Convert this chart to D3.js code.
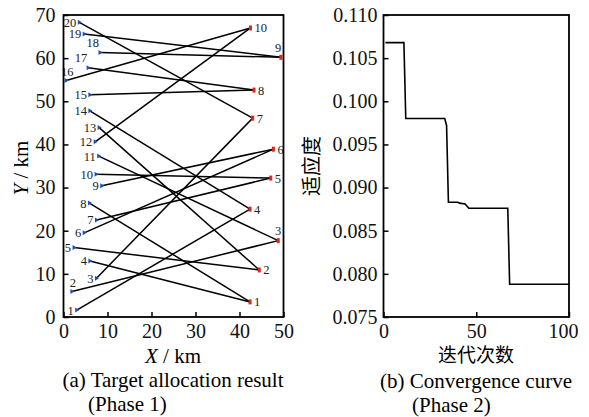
<!DOCTYPE html>
<html><head><meta charset="utf-8">
<script src="https://cdn.jsdelivr.net/npm/d3@7"></script>
<style>body{margin:0;background:#fff}svg{display:block}</style>
</head><body>
<svg id="c" width="589" height="417"></svg>
<script>
// ---- Panel (a): target allocation ----
const blueIds = d3.range(1, 21);
const blueX = [3.0, 1.9, 7.5, 6.0, 2.4, 4.7, 7.5, 5.9, 8.7, 7.4, 8.0, 7.2, 8.1, 6.0, 6.0, 0.6, 5.6, 8.3, 4.7, 3.6];
const blueY = [1.6, 5.9, 9.0, 13.0, 16.1, 19.5, 22.5, 26.4, 30.4, 33.1, 37.3, 40.6, 43.9, 47.8, 51.5, 54.8, 57.8, 61.3, 65.6, 68.3];
const redIds = d3.range(1, 11);
const redX = [42.4, 44.5, 48.8, 42.4, 47.1, 47.7, 43.0, 43.3, 49.4, 42.5];
const redY = [3.5, 10.9, 17.7, 25.0, 32.2, 38.9, 46.1, 52.6, 60.2, 67.0];
// target (red id) assigned to each blue id 1..20
const assignment = [4, 3, 7, 1, 2, 6, 5, 1, 6, 5, 3, 10, 2, 4, 8, 10, 8, 9, 9, 7];
const xTicksA = [0, 10, 20, 30, 40, 50];
const yTicksA = [0, 10, 20, 30, 40, 50, 60, 70];

// ---- Panel (b): convergence curve ----
const iterations = [1, 11, 12, 33, 34, 35, 40, 41, 44, 46, 67, 68, 100];
const fitness = [0.1068, 0.1068, 0.0980, 0.0980, 0.0972, 0.0883, 0.0883, 0.0882, 0.0881, 0.0876, 0.0876, 0.0788, 0.0788];
const xTicksB = [0, 50, 100];
const yTicksB = [0.075, 0.080, 0.085, 0.090, 0.095, 0.100, 0.105, 0.110];

const svg = d3.select("#c");
const serif = "Liberation Serif, Times New Roman, serif";
const cjk = "Noto Sans CJK SC, sans-serif";

function frame(g, x0, x1, y0, y1) {
  g.append("rect").attr("x", x0).attr("y", y1).attr("width", x1 - x0).attr("height", y0 - y1)
    .attr("fill", "none").attr("stroke", "#000").attr("stroke-width", 1.8);
}

// ===== Panel A =====
const xA = d3.scaleLinear().domain([0, 50]).range([63.5, 283.5]);
const yA = d3.scaleLinear().domain([0, 70]).range([317, 15]);
const gA = svg.append("g");

const axXA = d3.axisBottom(xA).tickValues(xTicksA).tickSize(-5).tickPadding(7).tickFormat(d3.format("d"));
const axYA = d3.axisLeft(yA).tickValues(yTicksA).tickSize(-5).tickPadding(8).tickFormat(d3.format("d"));
gA.append("g").attr("transform", "translate(0,317)").call(axXA);
gA.append("g").attr("transform", "translate(63.5,0)").call(axYA);

// lines
const links = blueIds.map((id, i) => ({ b: i, r: assignment[i] - 1 }));
gA.append("g").selectAll("line").data(links).join("line")
  .attr("x1", d => xA(blueX[d.b])).attr("y1", d => yA(blueY[d.b]))
  .attr("x2", d => xA(redX[d.r])).attr("y2", d => yA(redY[d.r]))
  .attr("stroke", "#000").attr("stroke-width", 1.5);

// blue markers
gA.append("g").selectAll("path").data(blueIds).join("path")
  .attr("transform", (d, i) => `translate(${xA(blueX[i])},${yA(blueY[i])})`)
  .attr("d", "M-1.5,-2.5L2.5,0L-1.5,2.5Z").attr("fill", "#1f4fb5");
// red markers
gA.append("g").selectAll("rect").data(redIds).join("rect")
  .attr("x", (d, i) => xA(redX[i]) - 1.5).attr("y", (d, i) => yA(redY[i]) - 2.5)
  .attr("width", 3).attr("height", 5).attr("fill", "#e8231b");

// labels: default blue to the left, red to the right
const blueLabelPlace = { 2: "above", 16: "above", 18: "aboveLeft", 17: "aboveLeft" };
const redLabelPlace = { 3: "above", 9: "aboveLeft" };
gA.append("g").selectAll("text").data(blueIds).join("text")
  .attr("font-family", serif).attr("font-size", 12.5).attr("fill", "#222")
  .each(function (d, i) {
    const px = xA(blueX[i]), py = yA(blueY[i]);
    const p = blueLabelPlace[d];
    const t = d3.select(this).text(d);
    if (p === "above") t.attr("x", px + 1).attr("y", py - 5).attr("text-anchor", "middle");
    else if (p === "aboveLeft") t.attr("x", px - 1).attr("y", py - 6).attr("text-anchor", "end");
    else t.attr("x", px - 3).attr("y", py + 4.5).attr("text-anchor", "end");
  });
gA.append("g").selectAll("text").data(redIds).join("text")
  .attr("font-family", serif).attr("font-size", 12.5).attr("fill", "#222")
  .each(function (d, i) {
    const px = xA(redX[i]), py = yA(redY[i]);
    const t = d3.select(this).text(d);
    const p = redLabelPlace[d];
    if (p === "above") t.attr("x", px).attr("y", py - 6).attr("text-anchor", "middle");
    else if (p === "aboveLeft") t.attr("x", px + 0.5).attr("y", py - 5).attr("text-anchor", "end");
    else t.attr("x", px + 4).attr("y", py + 4.5).attr("text-anchor", "start");
  });
frame(gA, 63.5, 283.5, 317, 15);

// titles A
gA.append("text").attr("x", 173).attr("y", 363).attr("text-anchor", "middle")
  .attr("font-family", serif).attr("font-size", 21)
  .html("<tspan font-style='italic'>X</tspan> / km");
gA.append("text").attr("transform", "translate(28,168) rotate(-90)").attr("text-anchor", "middle")
  .attr("font-family", serif).attr("font-size", 21)
  .html("<tspan font-style='italic'>Y</tspan> / km");
gA.append("text").attr("x", 173).attr("y", 387).attr("text-anchor", "middle")
  .attr("font-family", serif).attr("font-size", 21).text("(a) Target allocation result");
gA.append("text").attr("x", 88).attr("y", 411).attr("text-anchor", "start")
  .attr("font-family", serif).attr("font-size", 21).text("(Phase 1)");

// ===== Panel B =====
const xB = d3.scaleLinear().domain([0, 100]).range([383.5, 569]);
const yB = d3.scaleLinear().domain([0.075, 0.110]).range([317, 15]);
const gB = svg.append("g");
const axXB = d3.axisBottom(xB).tickValues(xTicksB).tickSize(-5).tickPadding(7).tickFormat(d3.format("d"));
const axYB = d3.axisLeft(yB).tickValues(yTicksB).tickSize(-5).tickPadding(6).tickFormat(d3.format(".3f"));
const gxB = gB.append("g").attr("transform", "translate(0,317)").call(axXB);
gxB.selectAll(".tick text").filter(d => d === 100).attr("dx", -6);
gB.append("g").attr("transform", "translate(383.5,0)").call(axYB);

gB.append("path").datum(iterations.map((it, i) => [it, fitness[i]]))
  .attr("d", d3.line().x(d => xB(d[0])).y(d => yB(d[1])))
  .attr("fill", "none").attr("stroke", "#000").attr("stroke-width", 1.6);
frame(gB, 383.5, 569, 317, 15);

gB.append("text").attr("x", 476).attr("y", 362).attr("text-anchor", "middle")
  .attr("font-family", cjk).attr("font-size", 19).text("迭代次数");
gB.append("text").attr("transform", "translate(319,166) rotate(-90)").attr("text-anchor", "middle")
  .attr("font-family", cjk).attr("font-size", 20).text("适应度");
gB.append("text").attr("x", 476).attr("y", 388).attr("text-anchor", "middle")
  .attr("font-family", serif).attr("font-size", 21).text("(b) Convergence curve");
gB.append("text").attr("x", 412).attr("y", 412).attr("text-anchor", "start")
  .attr("font-family", serif).attr("font-size", 21).text("(Phase 2)");

// axis styling
svg.selectAll(".domain").attr("stroke", "none");
svg.selectAll(".tick line").attr("stroke", "#000").attr("stroke-width", 1.5);
svg.selectAll(".tick text").attr("font-family", serif).attr("font-size", 20).attr("fill", "#111");
</script>
</body></html>
